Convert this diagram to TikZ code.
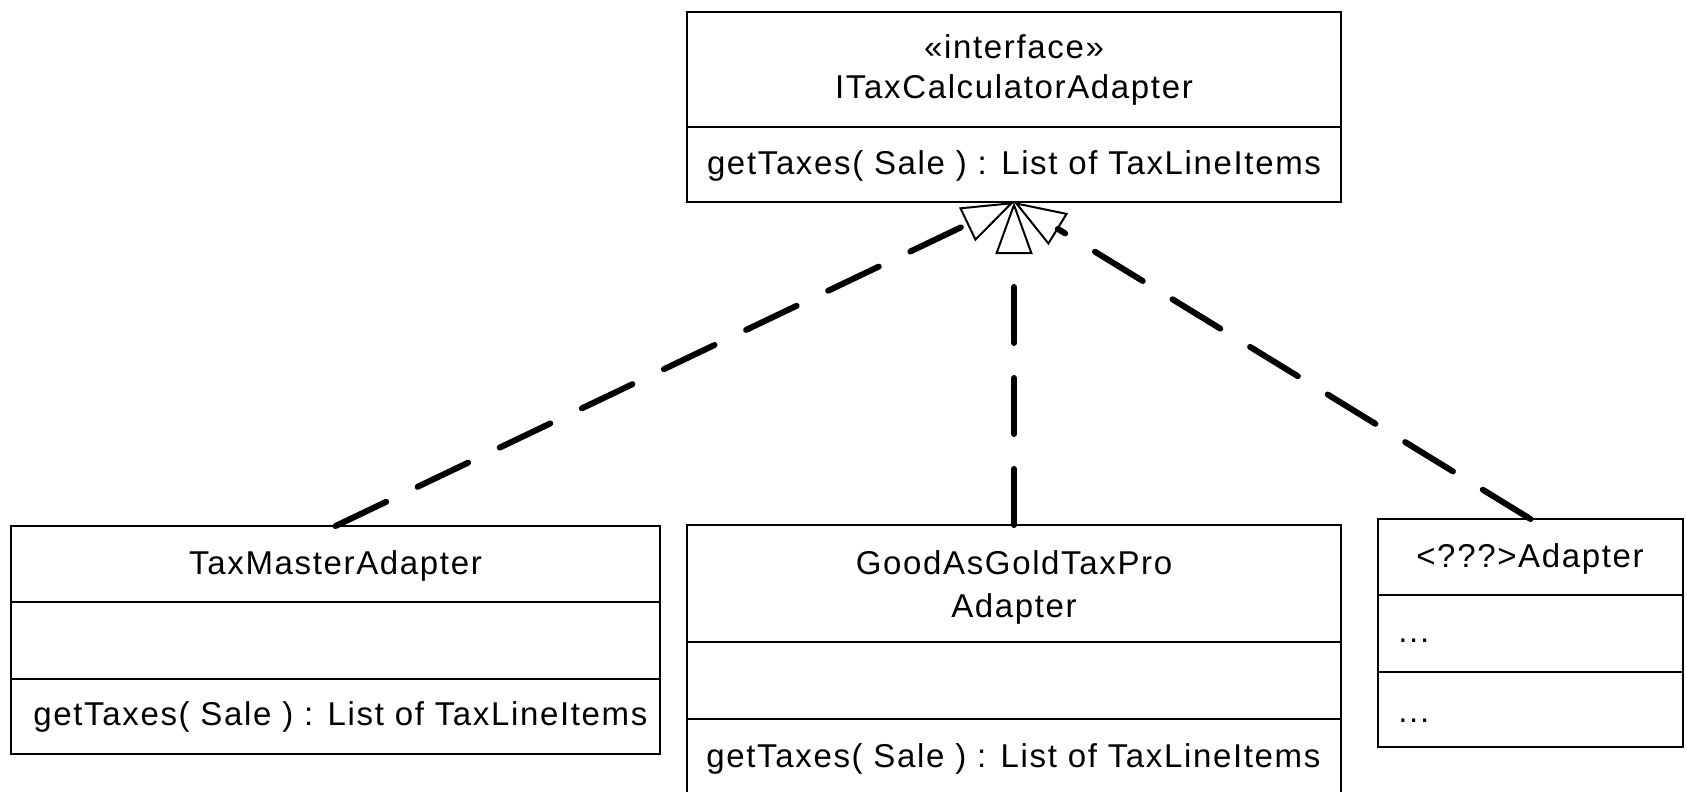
\documentclass[tikz,border=0pt]{standalone}
\usepackage{fontspec}
\setmainfont[LetterSpace=5]{Liberation Sans}
\usetikzlibrary{arrows.meta}
\begin{document}
\begin{tikzpicture}[x=0.5pt,y=-0.5pt,
  box/.style={draw, line width=1.2pt, inner sep=0pt, outer sep=0pt},
  div/.style={line width=1.2pt},
  txt/.style={font=\fontsize{16.5}{20}\selectfont, inner sep=0pt, anchor=base},
  ltxt/.style={txt, anchor=base west},
  realize/.style={line width=3pt, line cap=round, dash pattern=on 28pt off 17.5pt,
    -{Triangle[open, length=26pt, width=18.5pt, line width=1pt]}}]
\useasboundingbox (0,0) rectangle (1687,792);
\clip (0,0) rectangle (1687,792);

% interface
\node[box, minimum width=327pt, minimum height=95pt] (iface) at (1014,107) {};
\draw[div] (687,127) -- (1341,127);
\node[txt] (ifs) at (1014,59) {«interface»};
\node[txt] (ifn) at (1014,99) {ITaxCalculatorAdapter};
\node[txt] (ifm) at (1014,175) {getTaxes( Sale ) : List of TaxLineItems};

% TaxMasterAdapter
\node[box, minimum width=324.5pt, minimum height=114pt] (tm) at (335.5,640) {};
\draw[div] (11,602) -- (660,602);
\draw[div] (11,679) -- (660,679);
\node[txt] (tmn) at (335.5,574) {TaxMasterAdapter};
\node[ltxt] (tmm) at (33,725) {getTaxes( Sale ) : List of TaxLineItems};

% GoodAsGoldTaxProAdapter
\node[box, minimum width=327pt, minimum height=152.5pt] (gg) at (1014,677.5) {};
\draw[div] (687,642) -- (1341,642);
\draw[div] (687,719) -- (1341,719);
\node[txt] (ggn1) at (1014,574) {GoodAsGoldTaxPro};
\node[txt] (ggn2) at (1014,617) {Adapter};
\node[ltxt] (ggm) at (706,767) {getTaxes( Sale ) : List of TaxLineItems};

% <???>Adapter
\node[box, minimum width=152.5pt, minimum height=114pt] (ad) at (1530.5,633) {};
\draw[div] (1378,595) -- (1683,595);
\draw[div] (1378,672) -- (1683,672);
\node[txt] (adn) at (1530,567) {<???>Adapter};
\node[ltxt] (ada) at (1398,642) {...};
\node[ltxt] (adb) at (1398,722) {...};

% realizations
\draw[realize] (tm.north) -- (iface.south);
\draw[realize] (gg.north) -- (iface.south);
\draw[realize] (ad.north) -- (iface.south);
\end{tikzpicture}
\end{document}
